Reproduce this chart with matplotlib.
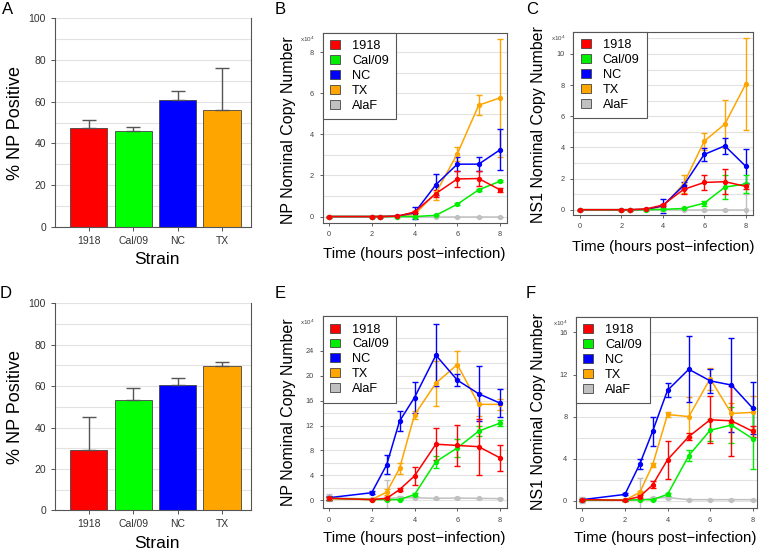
import matplotlib
matplotlib.use("Agg")
import matplotlib.pyplot as plt
from matplotlib.patches import Patch
import numpy as np

plt.rcParams['font.family'] = ['Liberation Sans', 'DejaVu Sans']

# ---- data ----
strains = ['1918', 'Cal/09', 'NC', 'TX']
bar_colors = ['#ff0000', '#00ff00', '#0000ff', '#ffa500']

npA = [47.2, 46.0, 61.0, 55.8]
npA_err = [4.2, 1.7, 4.0, 20.2]
npD = [29.2, 53.5, 60.5, 69.8]
npD_err = [15.8, 5.5, 3.5, 2.0]

series_names = ['1918', 'Cal/09', 'NC', 'TX', 'AlaF']
series_colors = ['#ff0000', '#00ee00', '#0000ff', '#ffa500', '#c0c0c0']

tB = [0, 2, 2.4, 3.2, 4, 5, 6, 7, 8]
tE = [0, 2, 2.7, 3.3, 4, 5, 6, 7, 8]

# panel B: NP copy number (x10^4)
B_1918 = [0, 0, 0, 0.02, 0.22, 1.12, 1.83, 1.85, 1.30]
B_1918_err = [0, 0, 0, 0.01, 0.05, 0.15, 0.37, 0.37, 0.10]
B_cal = [0, 0, 0, 0, 0.0, 0.06, 0.60, 1.30, 1.72]
B_cal_err = [0, 0, 0, 0, 0, 0.03, 0.06, 0.05, 0.05]
B_nc = [0, 0, 0, 0.02, 0.18, 1.55, 2.55, 2.55, 3.25]
B_nc_err = [0, 0, 0, 0.01, 0.30, 0.50, 0.33, 0.33, 1.00]
B_tx = [0, 0, 0, 0.02, 0.10, 1.15, 3.05, 5.42, 5.78]
B_tx_err = [0, 0, 0, 0.01, 0.05, 0.35, 0.35, 0.48, 2.88]
B_alaf = [0, 0, 0, 0, 0, 0, 0, 0, 0]
B_alaf_err = [0, 0, 0, 0, 0, 0, 0, 0, 0]

# panel C: NS1 copy number (x10^4)
C_1918 = [0, 0, 0, 0.05, 0.30, 1.30, 1.75, 1.80, 1.50]
C_1918_err = [0, 0, 0, 0.02, 0.05, 0.30, 0.48, 0.82, 0.15]
C_cal = [0, 0, 0, 0, 0.02, 0.08, 0.42, 1.45, 1.65]
C_cal_err = [0, 0, 0, 0, 0.02, 0.05, 0.15, 0.75, 0.60]
C_nc = [0, 0, 0, 0.02, 0.25, 1.55, 3.55, 4.10, 2.80]
C_nc_err = [0, 0, 0, 0.01, 0.43, 0.25, 0.40, 0.52, 1.10]
C_tx = [0, 0, 0, 0.02, 0.20, 1.65, 4.40, 5.50, 8.05]
C_tx_err = [0, 0, 0, 0.01, 0.10, 0.57, 0.55, 1.55, 2.95]
C_alaf = [0, 0, 0, 0, 0, 0, 0, 0, 0]
C_alaf_err = [0, 0, 0, 0, 0, 0, 0, 0, 1.0]

# panel E: NP copy number (x10^4)
E_1918 = [0.3, 0.1, 0.3, 1.7, 3.9, 9.0, 8.8, 8.6, 6.8]
E_1918_err = [0.2, 0.05, 0.2, 0.2, 1.5, 2.6, 3.25, 4.5, 2.05]
E_cal = [0.3, 0.1, 0.1, 0.1, 0.9, 6.2, 8.4, 11.1, 12.4]
E_cal_err = [0.2, 0.05, 0.1, 0.1, 0.2, 0.95, 1.5, 0.75, 0.5]
E_nc = [0.4, 1.2, 5.7, 12.7, 16.5, 23.3, 19.3, 17.1, 15.6]
E_nc_err = [0.3, 0.2, 1.55, 1.6, 2.55, 5.0, 1.0, 4.4, 2.2]
E_tx = [0.3, 0.1, 1.3, 5.1, 13.7, 18.8, 21.8, 15.4, 15.4]
E_tx_err = [0.2, 0.05, 0.5, 0.95, 0.6, 3.6, 2.25, 1.9, 0.85]
E_alaf = [0.4, 0.2, 0.3, 0.4, 0.4, 0.3, 0.35, 0.3, 0.25]
E_alaf_err = [0.6, 0.1, 2.9, 0.2, 0.1, 0.1, 0.1, 0.1, 0.1]

# panel F: NS1 copy number (x10^4)
F_1918 = [0.1, 0.05, 0.4, 1.5, 3.9, 6.1, 7.7, 7.6, 6.6]
F_1918_err = [0.1, 0.05, 0.1, 0.33, 1.8, 0.3, 2.25, 3.3, 0.5]
F_cal = [0.05, 0.05, 0.1, 0.1, 0.6, 4.3, 6.7, 7.2, 5.9]
F_cal_err = [0.05, 0.05, 0.05, 0.05, 0.15, 0.55, 1.05, 1.75, 2.9]
F_nc = [0.1, 0.6, 3.5, 6.6, 10.5, 12.5, 11.4, 11.0, 8.8]
F_nc_err = [0.1, 0.1, 0.45, 1.4, 0.65, 3.15, 1.15, 4.45, 2.5]
F_tx = [0.1, 0.05, 0.8, 3.4, 8.2, 8.0, 11.6, 8.3, 8.4]
F_tx_err = [0.1, 0.05, 0.15, 0.2, 0.2, 1.9, 1.05, 0.95, 1.6]
F_alaf = [0.1, 0.05, 0.05, 0.25, 0.3, 0.1, 0.1, 0.1, 0.1]
F_alaf_err = [0.3, 0.05, 2.1, 0.1, 0.1, 0.05, 0.05, 0.05, 0.05]

W, H = 760, 551
fig = plt.figure(figsize=(W / 100, H / 100), dpi=100)
EDGE = '#555555'
GRID = '#e2e2e2'


def px_axes(l, t, r, b):
    return fig.add_axes([l / W, 1 - b / H, (r - l) / W, (b - t) / H])


def ftext(x, y, s, **kw):
    fig.text(x / W, 1 - y / H, s, ha='center', va='center', **kw)


def bar_panel(ax, vals, errs):
    x = np.arange(len(strains))
    ax.set_axisbelow(True)
    ax.bar(x, vals, width=0.84, color=bar_colors, edgecolor='#444444', linewidth=0.6, zorder=2)
    ax.errorbar(x, vals, yerr=[np.zeros(len(errs)), errs], fmt='none', ecolor='#555555',
                elinewidth=1.0, capsize=5, capthick=1.0, zorder=3)
    ax.set_xlim(-0.76, 3.65)
    ax.set_ylim(0, 100)
    ax.set_yticks(range(0, 101, 20))
    ax.set_yticks(range(10, 100, 20), minor=True)
    ax.grid(axis='y', which='both', color=GRID, lw=0.8)
    ax.set_xticks(x)
    ax.set_xticklabels(strains)
    ax.tick_params(axis='both', which='major', labelsize=7.5, colors='#333333', length=3, width=0.6)
    ax.tick_params(axis='y', which='minor', length=0)
    ax.spines['top'].set_visible(False)
    for s in ['left', 'bottom', 'right']:
        ax.spines[s].set_color(EDGE)
        ax.spines[s].set_linewidth(0.8)


def time_panel(ax, t, data, xlim, ylim, yticks):
    ax.set_axisbelow(True)
    order = [4, 3, 2, 1, 0]
    for i in order:
        vals, errs = data[i]
        ax.errorbar(t, vals, yerr=errs, color=series_colors[i], lw=1.1, marker='o', ms=2.8,
                    capsize=2.5, elinewidth=1.0, capthick=1.0, zorder=3)
    ax.set_xlim(*xlim)
    ax.set_ylim(*ylim)
    ax.set_xticks([0, 2, 4, 6, 8])
    ax.set_yticks(yticks)
    step = yticks[1] - yticks[0]
    ax.set_yticks(np.arange(yticks[0] + step / 2, ylim[1], step), minor=True)
    ax.grid(axis='y', which='both', color=GRID, lw=0.8)
    ax.tick_params(axis='both', which='major', labelsize=5.3, colors='#444444', length=2.5, width=0.6)
    ax.tick_params(axis='y', which='minor', length=0)
    for s in ax.spines.values():
        s.set_color(EDGE)
        s.set_linewidth(0.8)
    ax.text(-0.125, 0.965, r'x10$^4$', transform=ax.transAxes, fontsize=4.5, color='#444444',
            ha='left', va='center')
    handles = [Patch(facecolor=c, edgecolor='#444444', lw=0.6) for c in series_colors]
    leg = ax.legend(handles, series_names, loc='upper left', bbox_to_anchor=(0, 1),
                    borderaxespad=0, fontsize=9.2, handlelength=0.75, handleheight=0.7,
                    handletextpad=0.95, labelspacing=0.22, borderpad=0.6, fancybox=False,
                    framealpha=1, edgecolor=EDGE)
    leg.get_frame().set_linewidth(0.8)


# A
axA = px_axes(55, 18.3, 251, 226.7)
bar_panel(axA, npA, npA_err)
# D
axD = px_axes(55, 303.3, 251, 510.3)
bar_panel(axD, npD, npD_err)

# B
axB = px_axes(322.5, 32.7, 506.5, 222.7)
time_panel(axB, tB, [(B_1918, B_1918_err), (B_cal, B_cal_err), (B_nc, B_nc_err),
                     (B_tx, B_tx_err), (B_alaf, B_alaf_err)],
           (-0.3, 8.3), (-0.3, 8.95), [0, 2, 4, 6, 8])
# C
axC = px_axes(573.3, 31.7, 753, 215)
time_panel(axC, tB, [(C_1918, C_1918_err), (C_cal, C_cal_err), (C_nc, C_nc_err),
                     (C_tx, C_tx_err), (C_alaf, C_alaf_err)],
           (-0.33, 8.36), (-0.34, 11.43), [0, 2, 4, 6, 8, 10])
# E
axE = px_axes(322.5, 316, 506.5, 508.3)
time_panel(axE, tE, [(E_1918, E_1918_err), (E_cal, E_cal_err), (E_nc, E_nc_err),
                     (E_tx, E_tx_err), (E_alaf, E_alaf_err)],
           (-0.3, 8.3), (-1.3, 29.6), [0, 4, 8, 12, 16, 20, 24])
# F
axF = px_axes(575.7, 316.7, 757, 508.3)
time_panel(axF, tE, [(F_1918, F_1918_err), (F_cal, F_cal_err), (F_nc, F_nc_err),
                     (F_tx, F_tx_err), (F_alaf, F_alaf_err)],
           (-0.31, 8.2), (-0.72, 17.5), [0, 4, 8, 12, 16])

# panel letters
for lab, x, y in [('A', 8, 9), ('B', 280, 9), ('C', 532, 9),
                  ('D', 6, 293), ('E', 280, 293), ('F', 531, 293)]:
    ftext(x, y, lab, fontsize=12)

# axis titles
ftext(16, 123, '% NP Positive', fontsize=13, rotation=90)
ftext(16, 407, '% NP Positive', fontsize=13, rotation=90)
ftext(157, 260, 'Strain', fontsize=12.5)
ftext(157, 543, 'Strain', fontsize=12.5)
ftext(288, 130, 'NP Nominal Copy Number', fontsize=11.5, rotation=90)
ftext(539, 125, 'NS1 Nominal Copy Number', fontsize=11.5, rotation=90)
ftext(288, 412, 'NP Nominal Copy Number', fontsize=11.5, rotation=90)
ftext(539, 412, 'NS1 Nominal Copy Number', fontsize=11.5, rotation=90)
ftext(414, 254, 'Time (hours post\u2212infection)', fontsize=10.8)
ftext(663, 247, 'Time (hours post\u2212infection)', fontsize=10.8)
ftext(414, 538, 'Time (hours post\u2212infection)', fontsize=10.8)
ftext(665, 538, 'Time (hours post\u2212infection)', fontsize=10.8)

fig.savefig('out.png', dpi=100)
